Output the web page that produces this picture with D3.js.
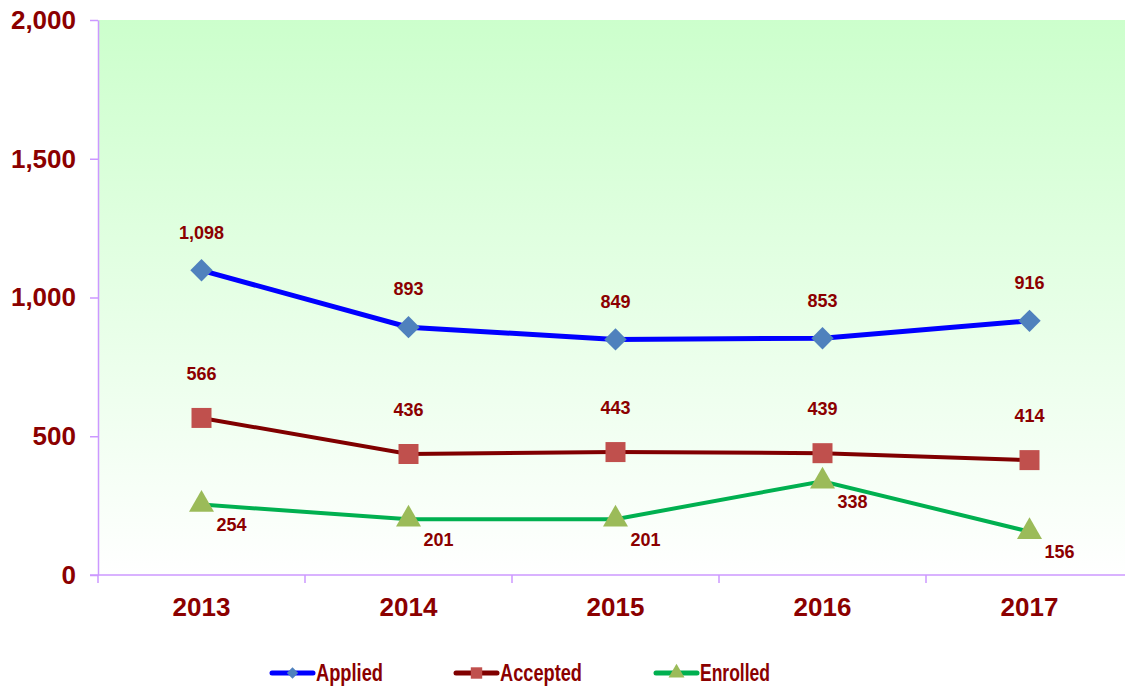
<!DOCTYPE html>
<html>
<head>
<meta charset="utf-8">
<script src="https://cdn.jsdelivr.net/npm/d3@7"></script>
<style>
  body { margin: 0; background: #fff; overflow: hidden; }
  text { font-family: "Liberation Sans", Arial, sans-serif; font-weight: bold; fill: #8b0000; }
</style>
</head>
<body>
<div id="chart"></div>
<script>
// chart values
var years = ["2013", "2014", "2015", "2016", "2017"];
var applied = [1098, 893, 849, 853, 916];
var accepted = [566, 436, 443, 439, 414];
var enrolled = [254, 201, 201, 338, 156];
var yTicks = [0, 500, 1000, 1500, 2000];

var series = [
  {name: "Applied", values: applied, line: "#0000ff", mark: "#4f81bd", shape: d3.symbolSquare, rot: 45, size: 250, lsize: 64, lw: 5, dx: 0, dy: -38},
  {name: "Accepted", values: accepted, line: "#800000", mark: "#c0504d", shape: d3.symbolSquare, rot: 0, size: 400, lsize: 130, lw: 4, dx: 0, dy: -44},
  {name: "Enrolled", values: enrolled, line: "#00b050", mark: "#9bbb59", shape: d3.symbolTriangle, rot: 0, size: 270, lsize: 110, lw: 4, dx: 30, dy: 20}
];

var W = 1125, H = 687;
var margin = {top: 20, left: 98, bottom: 112};
var plotW = 207 * years.length;
var plotH = H - margin.top - margin.bottom;

var svg = d3.select("#chart").append("svg")
    .attr("width", W)
    .attr("height", H);

var grad = svg.append("defs").append("linearGradient")
    .attr("id", "bg").attr("x1", 0).attr("y1", 0).attr("x2", 0).attr("y2", 1);
grad.append("stop").attr("offset", "0%").attr("stop-color", "#ccffcc");
grad.append("stop").attr("offset", "100%").attr("stop-color", "#ffffff");

var x = d3.scaleBand().domain(years).range([0, plotW]);
var y = d3.scaleLinear().domain([0, 2000]).range([plotH, 0]);

var g = svg.append("g").attr("transform", "translate(" + margin.left + "," + margin.top + ")");

g.append("rect").attr("width", plotW).attr("height", plotH).attr("fill", "url(#bg)");

// y axis
var yAxis = g.append("g")
    .call(d3.axisLeft(y).tickValues(yTicks).tickSize(8).tickSizeOuter(0).tickPadding(14).tickFormat(d3.format(",")));
yAxis.select(".domain").attr("stroke", "#cc99ff").attr("stroke-width", 1.5);
yAxis.selectAll(".tick line").attr("stroke", "#cc99ff").attr("stroke-width", 1.5);
yAxis.selectAll(".tick text").attr("font-size", 26).attr("fill", "#8b0000").attr("font-family", null);

// x axis
var xg = g.append("g").attr("transform", "translate(0," + plotH + ")");
xg.append("line").attr("x1", -8).attr("x2", plotW).attr("stroke", "#cc99ff").attr("stroke-width", 1.5);
xg.selectAll("line.tk").data(d3.range(years.length + 1)).enter().append("line")
    .attr("class", "tk")
    .attr("x1", function (i) { return i * x.step(); })
    .attr("x2", function (i) { return i * x.step(); })
    .attr("y1", 0).attr("y2", 8)
    .attr("stroke", "#cc99ff").attr("stroke-width", 1.5);
xg.selectAll("text").data(years).enter().append("text")
    .attr("x", function (d) { return x(d) + x.bandwidth() / 2; })
    .attr("y", 41)
    .attr("text-anchor", "middle")
    .attr("font-size", 26)
    .text(function (d) { return d; });

var line = d3.line()
    .x(function (d, i) { return x(years[i]) + x.bandwidth() / 2; })
    .y(function (d) { return y(d); });

series.forEach(function (s) {
  g.append("path").datum(s.values)
      .attr("d", line)
      .attr("fill", "none")
      .attr("stroke", s.line)
      .attr("stroke-width", s.lw);
});

series.forEach(function (s) {
  var sym = d3.symbol().type(s.shape).size(s.size);
  g.selectAll(null).data(s.values).enter().append("path")
      .attr("d", sym)
      .attr("transform", function (d, i) {
        return "translate(" + (x(years[i]) + x.bandwidth() / 2) + "," + y(d) + ")rotate(" + s.rot + ")";
      })
      .attr("fill", s.mark);
  g.selectAll(null).data(s.values).enter().append("text")
      .attr("x", function (d, i) { return x(years[i]) + x.bandwidth() / 2 + s.dx; })
      .attr("y", function (d) { return y(d) + s.dy; })
      .attr("dy", "0.35em")
      .attr("text-anchor", "middle")
      .attr("font-size", 18)
      .text(function (d) { return d3.format(",")(d); });
});

// legend
var legX = [272, 456, 656];
var legW = [67, 82, 70];
var leg = svg.append("g").attr("transform", "translate(0,673)");
series.forEach(function (s, i) {
  var lg = leg.append("g").attr("transform", "translate(" + legX[i] + ",0)");
  lg.append("line").attr("x1", 0).attr("x2", 41)
      .attr("stroke", s.line).attr("stroke-width", 5).attr("stroke-linecap", "round");
  lg.append("path")
      .attr("d", d3.symbol().type(s.shape).size(s.lsize))
      .attr("transform", "translate(20.5,0)rotate(" + s.rot + ")")
      .attr("fill", s.mark);
  lg.append("text")
      .attr("x", 44)
      .attr("dy", "0.35em")
      .attr("font-size", 24)
      .attr("textLength", legW[i])
      .attr("lengthAdjust", "spacingAndGlyphs")
      .text(s.name);
});
</script>
</body>
</html>
